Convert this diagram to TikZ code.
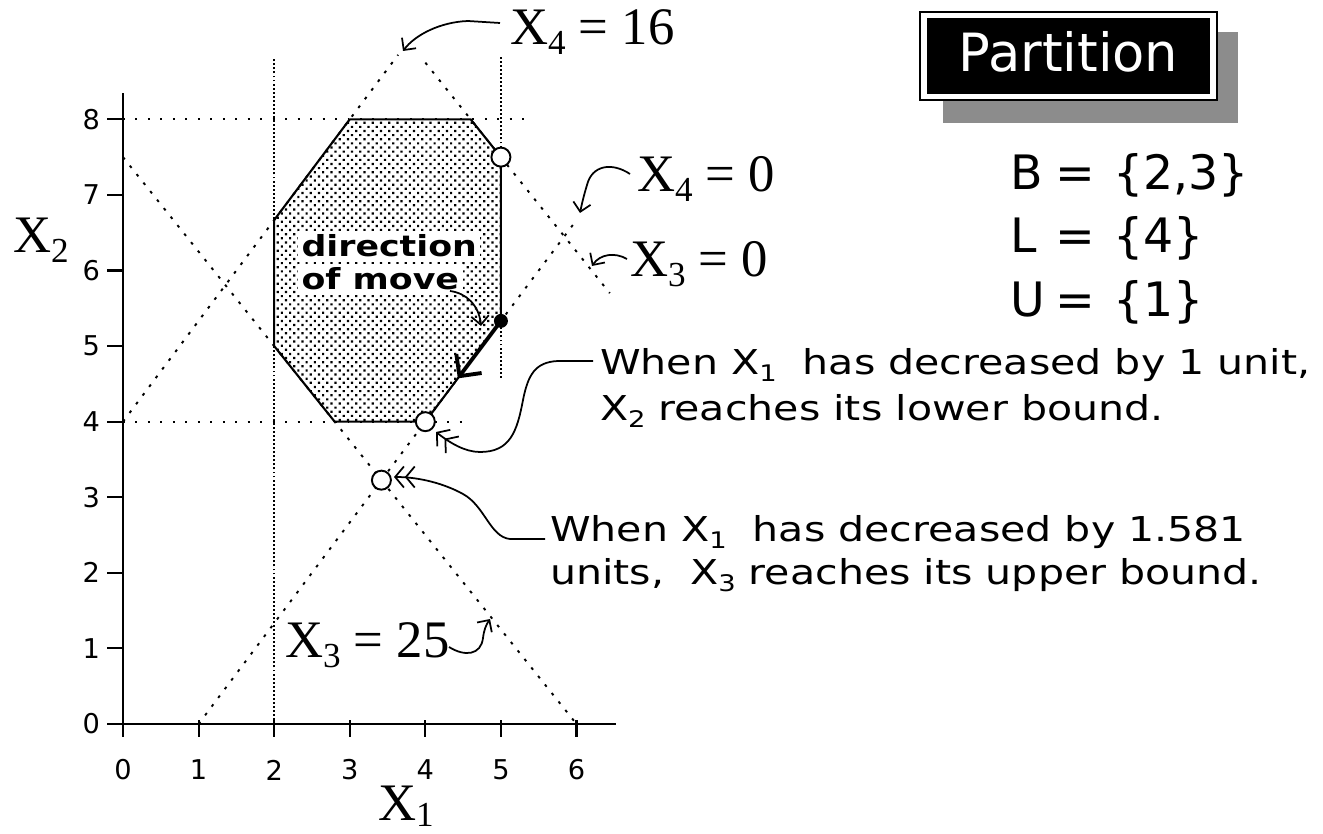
\documentclass[tikz,border=0pt]{standalone}
\usepackage{fontspec}
\setmainfont{Liberation Serif}
\newfontfamily\gen{DejaVu Sans}
\newfontfamily\chic[FakeStretch=1.2]{DejaVu Sans}
\usetikzlibrary{arrows.meta,patterns}
\pgfdeclarepatternformonly{stip}{\pgfqpoint{-0.1pt}{-0.1pt}}{\pgfqpoint{4.8pt}{4.8pt}}{\pgfqpoint{4.7pt}{4.7pt}}{%
  \pgfpathrectangle{\pgfqpoint{0pt}{0pt}}{\pgfqpoint{1.25pt}{1.25pt}}%
  \pgfpathrectangle{\pgfqpoint{2.35pt}{2.35pt}}{\pgfqpoint{1.25pt}{1.25pt}}%
  \pgfusepath{fill}}
\newcommand{\Xs}[1]{X\raisebox{-5.5pt}{\fontsize{20}{20}\selectfont #1}}
\newcommand{\Xb}[1]{X\raisebox{-3.8pt}{\fontsize{20}{20}\selectfont #1}}
\newcommand{\Xc}[1]{X\raisebox{-3.5pt}{\fontsize{13}{13}\selectfont #1}}
\tikzset{
  every node/.style={inner sep=0pt, outer sep=0pt},
  serif/.style={font=\fontsize{30}{30}\selectfont, anchor=base west},
  ticklab/.style={font=\gen\fontsize{15.5}{15.5}\selectfont},
  ann/.style={font=\chic\fontsize{19.5}{19.5}\selectfont, anchor=base west},
  setlab/.style={font=\gen\fontsize{27}{27}\selectfont},
  dirf/.style={font=\chic\bfseries\fontsize{16.5}{16.5}\selectfont, anchor=base west, fill=white, inner sep=2pt},
  vdot/.style={line width=1.1pt, dash pattern=on 1.1pt off 1.2pt},
  hdot/.style={line width=1.1pt, dash pattern=on 1.1pt off 6pt},
  cdot/.style={line width=1.1pt, dash pattern=on 1.6pt off 4.6pt},
  edge/.style={line width=1.2pt, line join=round},
  axis/.style={line width=1.2pt},
  opencirc/.style={circle, draw, fill=white, line width=1.1pt, minimum size=0.38cm},
  blackdot/.style={circle, fill=black, minimum size=0.28cm},
  harrow/.style={draw, line width=1pt, -{Straight Barb[length=5pt,width=10pt]}},
  dharrow/.style={draw, line width=1pt, -{Straight Barb[length=5pt,width=12pt] Straight Barb[length=5pt,width=12pt]}},
  movearrow/.style={draw, line width=2.2pt, -{Straight Barb[length=9pt,width=18pt,line width=2.2pt]}}
}
\begin{document}
\begin{tikzpicture}[x=0.02cm, y=-0.02cm]
\useasboundingbox (0,0) rectangle (1323,834);

% ---------- plot in data coordinates ----------
\begin{scope}[shift={(123,724)}, x=1.512cm, y=1.512cm]
  % feasible region
  \path[pattern=stip] (2,5) -- (2,6.667) -- (3,8) -- (4.6,8) -- (5,7.5) -- (5,5.333) -- (4,4) -- (2.8,4) -- cycle;
  % bound lines
  \draw[vdot] (2,0) -- (2,8.82);
  \draw[vdot] (5,4.58) -- (5,8.82);
  \draw[hdot] (0,8) -- (5.36,8);
  \draw[hdot] (0,4) -- (4.5,4);
  % constraint lines
  \draw[cdot] (0,7.5) -- (6,0);
  \draw[cdot] (1,0) -- (5.98,6.64);
  \draw[cdot] (0,4) -- (3.64,8.853);
  \draw[cdot] (4.0,8.75) -- (6.44,5.7);
  % region outline
  \draw[edge] (2,5) -- (2,6.667) -- (3,8) -- (4.6,8) -- (5,7.5) -- (5,5.333) -- (4,4) -- (2.8,4) -- cycle;
  % axes
  \draw[axis] (0,-0.17) -- (0,8.35);
  \draw[axis] (0,0) -- (6.52,0);
  \foreach \i in {0,...,8} \draw[axis] (-0.21,\i) -- (0,\i);
  \foreach \i in {1,...,6} \draw[axis] (\i,0.05) -- (\i,-0.17);
  % points
  \node[opencirc] (c75) at (5,7.5) {};
  \node[opencirc] (c44) at (4,4) {};
  \node[opencirc] (c33) at (3.419,3.226) {};
  \node[blackdot] (dot) at (5,5.333) {};
  \coordinate (mvend) at (4.43,4.573);
\end{scope}

% tick labels
\foreach \i in {0,...,8} \node[ticklab, anchor=east] (ty\i) at (100,{724-75.6*\i}) {\i};
\foreach \i in {0,...,6} \node[ticklab] (tx\i) at ({123+75.6*\i},770) {\i};

% axis labels and line labels
\node[serif] (lx2) at (13,253) {\Xs{2}};
\node[serif] (lx1) at (378,820) {\Xb{1}};
\node[serif] (l416) at (510,45) {\Xs{4} = 16};
\node[serif] (l40) at (637,192) {\Xs{4} = 0};
\node[serif] (l30) at (630,277) {\Xs{3} = 0};
\node[serif] (l325) at (285,658) {\Xs{3} = 25};

% direction of move
\node[dirf] (dir1) at (298,257) {direction};
\node[dirf] (dir2) at (298,290) {of move};

% move arrow
\draw[movearrow] (dot.center) -- (mvend);

% partition box
\fill[black!45] (943,32) rectangle (1238,123);
\draw[line width=1.2pt, fill=white] (920,12) rectangle (1217,100);
\fill[black] (927,18) rectangle (1210,94);
\node[font=\gen\fontsize{30}{30}\selectfont, text=white, anchor=base] (part) at (1068.5,72) {Partition};

% partition sets
\node[setlab, anchor=base west] (sB) at (1010,190) {B};
\node[setlab, anchor=base] (eB) at (1075,190) {=};
\node[setlab, anchor=base west] (vB) at (1113,190) {\{2,3\}};
\node[setlab, anchor=base west] (sL) at (1010,253) {L};
\node[setlab, anchor=base] (eL) at (1075,253) {=};
\node[setlab, anchor=base west] (vL) at (1113,253) {\{4\}};
\node[setlab, anchor=base west] (sU) at (1010,317) {U};
\node[setlab, anchor=base] (eU) at (1075,317) {=};
\node[setlab, anchor=base west] (vU) at (1113,317) {\{1\}};

% annotations
\node[ann] (n1a) at (600,375) {When \Xc{1}\ \ has decreased by 1 unit,};
\node[ann] (n1b) at (600,421) {\Xc{2} reaches its lower bound.};
\node[ann] (n2a) at (550,542) {When \Xc{1}\ \ has decreased by 1.581};
\node[ann] (n2b) at (550,585) {units,\ \ \Xc{3} reaches its upper bound.};

% annotation arrows
\coordinate (a1s) at (500,23);   \coordinate (a1t) at (403,51);
\coordinate (a2s) at (630,174);  \coordinate (a2t) at (580,213);
\coordinate (a3s) at (627,259);  \coordinate (a3t) at (592,266);
\coordinate (a4s) at (449,647);  \coordinate (a4t) at (490,619);
\coordinate (a5s) at (450,291);  \coordinate (a5t) at (481,326);
\coordinate (a7s) at (593,361);  \coordinate (a7t) at (436,432);
\coordinate (a8s) at (545,539);  \coordinate (a8t) at (394,477);

\draw[harrow] (a1s) -- (468,21) .. controls (440,22) and (415,35) .. (a1t);
\draw[harrow] (a2s) .. controls (612,162) and (592,165) .. (587,185) .. controls (584,195) and (582,203) .. (a2t);
\draw[harrow] (a3s) .. controls (615,252) and (600,254) .. (a3t);
\draw[harrow] (a4s) .. controls (465,657) and (481,655) .. (483,638) .. controls (484,630) and (486,625) .. (a4t);
\draw[harrow] (a5s) .. controls (466,293) and (479,305) .. (a5t);
\draw[dharrow] (a7s) -- (558,361) .. controls (535,362) and (528,375) .. (523,400) .. controls (517,432) and (510,452) .. (480,452) .. controls (465,452) and (450,443) .. (a7t);
\draw[dharrow] (a8s) -- (510,539) .. controls (490,537) and (485,506) .. (463,494) .. controls (445,484) and (420,477) .. (a8t);
\end{tikzpicture}
\end{document}
